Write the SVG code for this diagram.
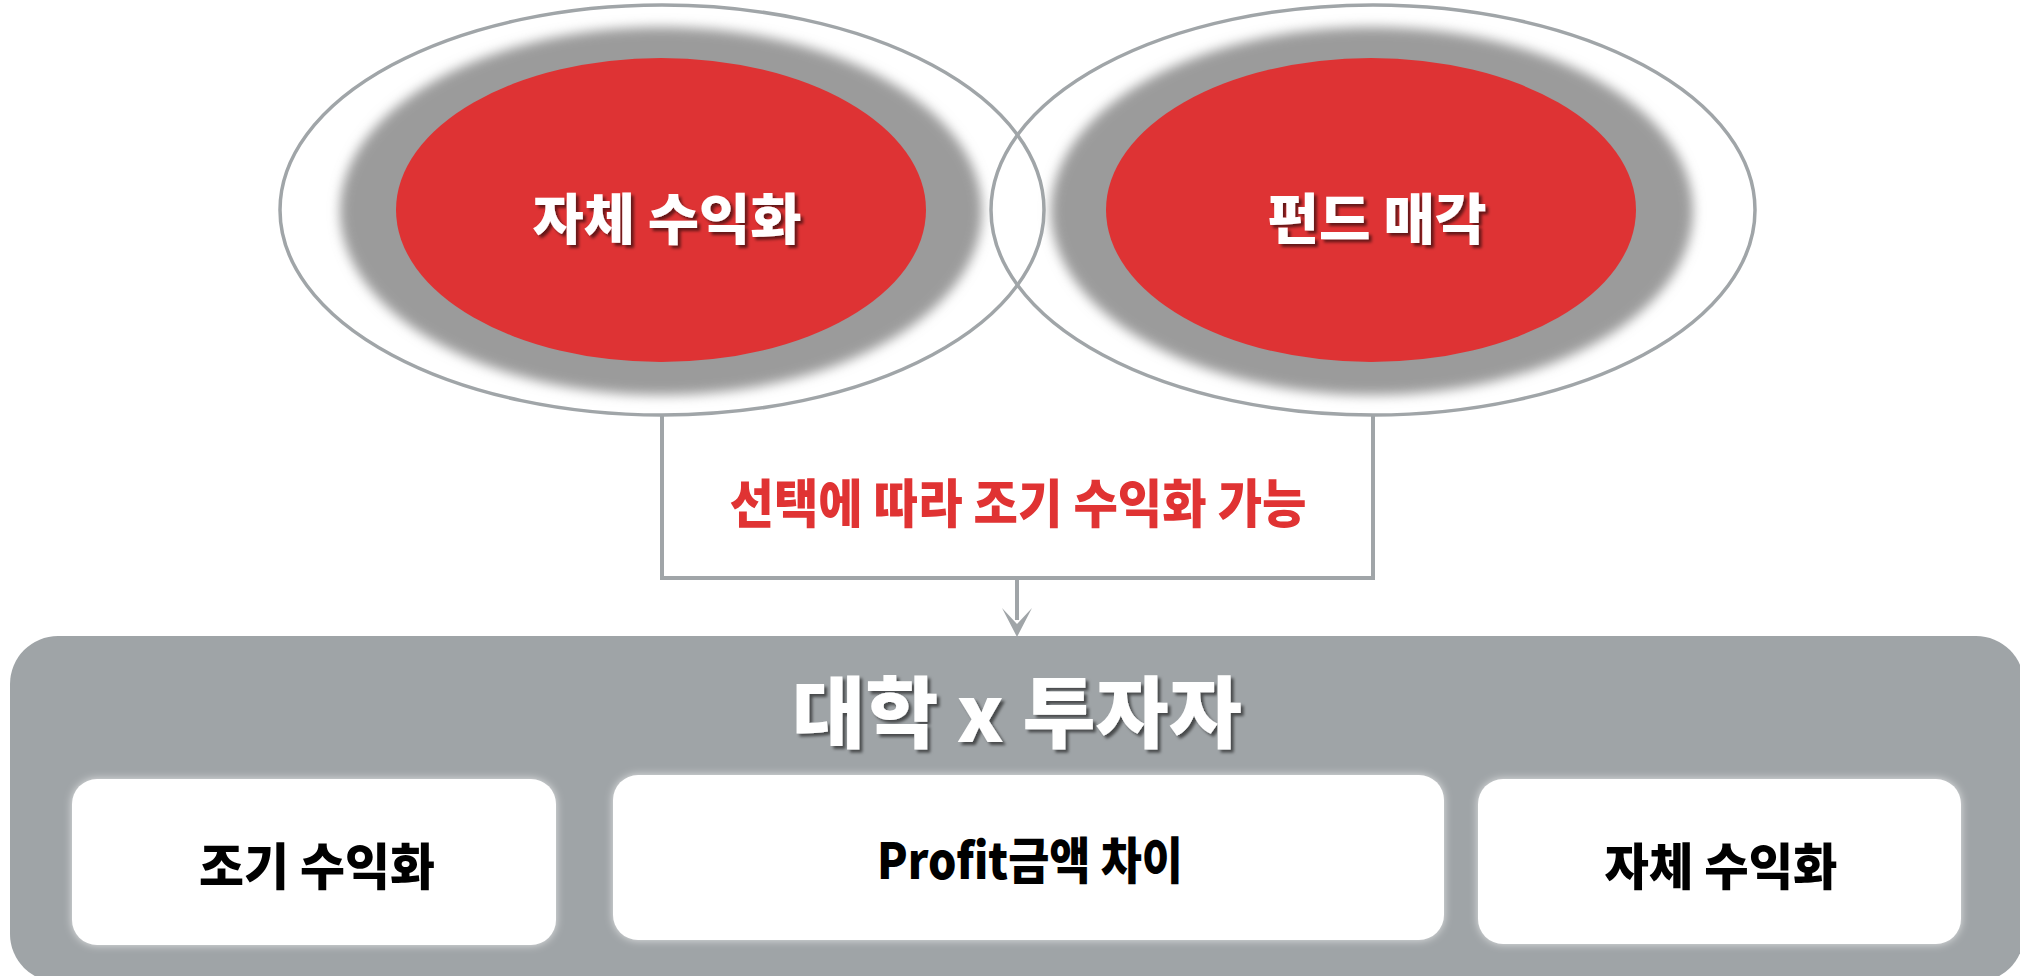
<svg xmlns="http://www.w3.org/2000/svg" width="2020" height="976" viewBox="0 0 2020 976">
<defs>
<style>
.outer{fill:none;stroke:#a0a5a8;stroke-width:3.5}
.ring{fill:#9b9b9b;filter:url(#blur)}
.core{fill:#de3334}
.wt{font-family:"Noto Sans CJK KR","Noto Sans",sans-serif;font-weight:900;fill:#ffffff;text-anchor:middle;filter:url(#shadow)}
.bt{font-family:"Noto Sans CJK KR","Noto Sans",sans-serif;font-weight:900;fill:#000000;text-anchor:middle}
.rt{font-family:"Noto Sans CJK KR","Noto Sans",sans-serif;font-weight:900;fill:#e03333;text-anchor:middle}
.box{fill:#ffffff;filter:url(#glow)}
.conn{fill:none;stroke:#a0a5a8;stroke-width:4}
</style>
<filter id="blur" x="-10%" y="-10%" width="120%" height="120%">
<feGaussianBlur stdDeviation="6"/>
</filter>
<filter id="shadow" x="-10%" y="-20%" width="120%" height="150%">
<feDropShadow dx="3" dy="3" stdDeviation="1.5" flood-color="#000000" flood-opacity="0.55"/>
</filter>
<filter id="glow" x="-10%" y="-20%" width="120%" height="140%">
<feDropShadow dx="0" dy="0" stdDeviation="4" flood-color="#ffffff" flood-opacity="0.7"/>
</filter>
</defs>

<g id="node-self">
<ellipse class="outer" cx="662" cy="210" rx="382" ry="205"/>
<ellipse class="ring" cx="661" cy="211" rx="321" ry="184"/>
<ellipse class="core" cx="661" cy="210" rx="265" ry="152"/>
<text class="wt" x="667" y="239" font-size="55" textLength="269" lengthAdjust="spacingAndGlyphs">자체 수익화</text>
</g>

<g id="node-fund">
<ellipse class="outer" cx="1373" cy="210" rx="382" ry="205"/>
<ellipse class="ring" cx="1372" cy="211" rx="321" ry="184"/>
<ellipse class="core" cx="1371" cy="210" rx="265" ry="152"/>
<text class="wt" x="1377" y="239" font-size="55" textLength="219" lengthAdjust="spacingAndGlyphs">펀드 매각</text>
</g>

<g id="connectors">
<path class="conn" d="M662,416 V578 H1373 V416"/>
<path class="conn" d="M1017,578 V620"/>
<path d="M1002,608 L1017,624 L1032,608 L1017,637 Z" fill="#a0a5a8"/>
</g>

<g id="label-choice">
<text class="rt" x="1018" y="523" font-size="52" textLength="577" lengthAdjust="spacingAndGlyphs">선택에 따라 조기 수익화 가능</text>
</g>

<g id="node-main">
<rect x="10" y="636" width="2014" height="346" rx="48" ry="48" fill="#9fa4a7"/>
<text class="wt" x="1017" y="742" font-size="78" textLength="450" lengthAdjust="spacingAndGlyphs">대학 x 투자자</text>
</g>

<g id="node-early">
<rect class="box" x="72" y="779" width="484" height="166" rx="25" ry="25"/>
<text class="bt" x="317" y="885" font-size="50" textLength="236" lengthAdjust="spacingAndGlyphs">조기 수익화</text>
</g>

<g id="node-profit">
<rect class="box" x="613" y="775" width="831" height="165" rx="25" ry="25"/>
<text class="bt" x="1030" y="879" font-size="50" textLength="306" lengthAdjust="spacingAndGlyphs">Profit금액 차이</text>
</g>

<g id="node-self2">
<rect class="box" x="1478" y="779" width="483" height="165" rx="25" ry="25"/>
<text class="bt" x="1721" y="885" font-size="50" textLength="233" lengthAdjust="spacingAndGlyphs">자체 수익화</text>
</g>
</svg>
